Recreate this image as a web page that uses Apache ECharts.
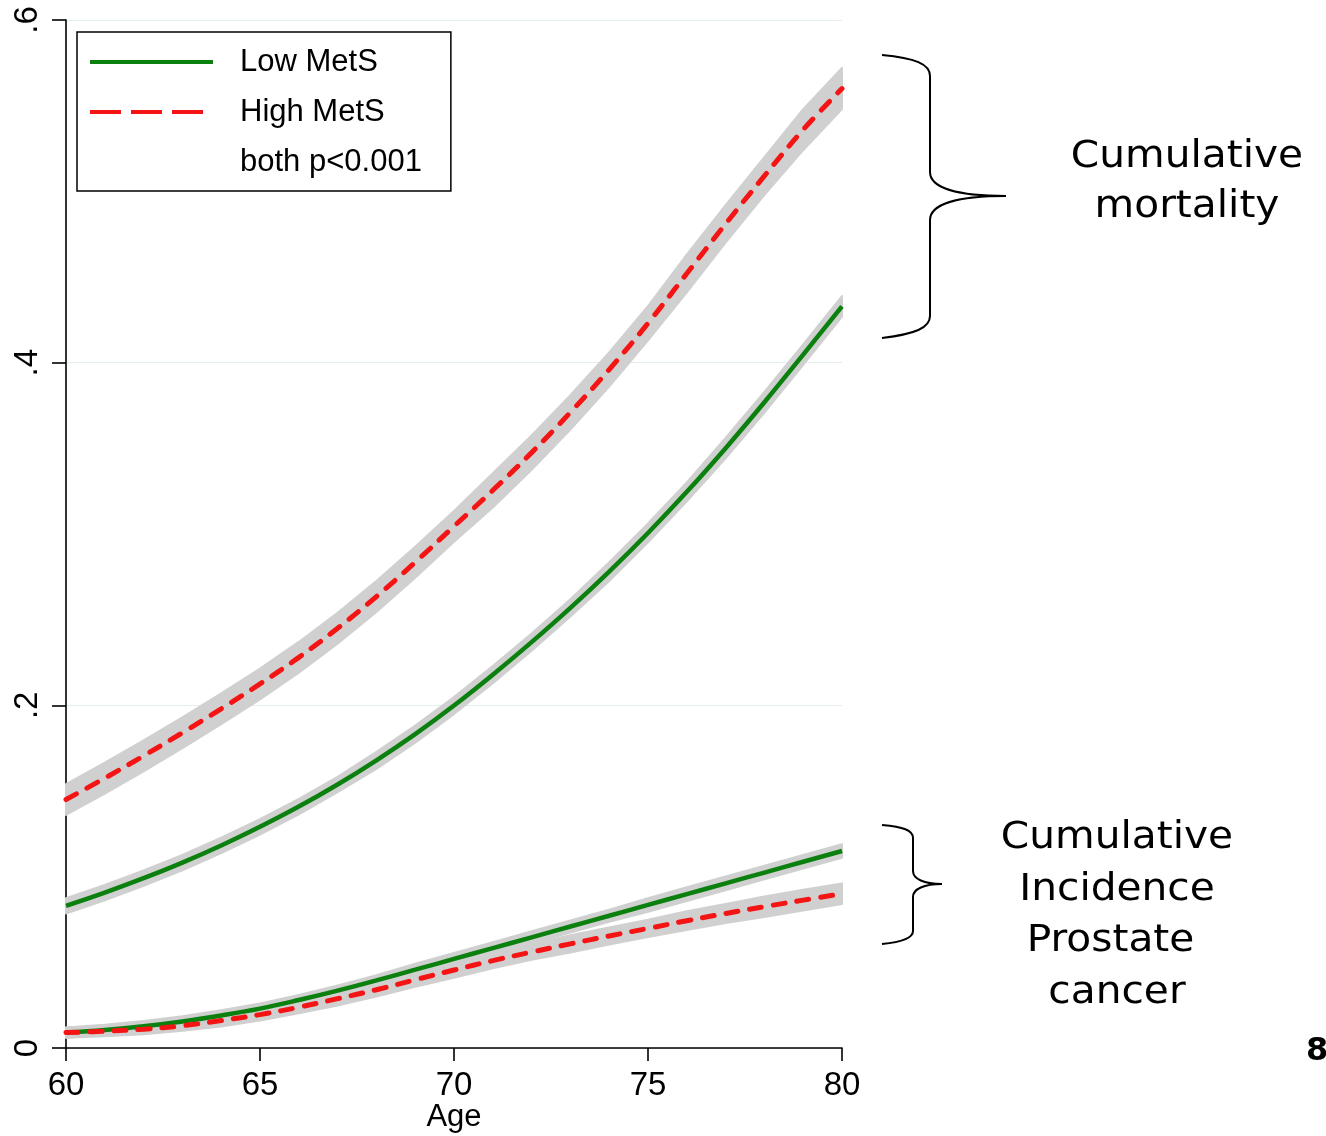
<!DOCTYPE html>
<html><head><meta charset="utf-8">
<script src="https://cdn.jsdelivr.net/npm/echarts@6/dist/echarts.min.js"></script>
<style>html,body{margin:0;padding:0;background:#fff}#c{width:1326px;height:1136px}</style>
</head><body><div id="c"></div>
<script>
// ---- data ----
const ages = [60,61,62,63,64,65,66,67,68,69,70,71,72,73,74,75,76,77,78,79,80];
const lowMetSMortality  = [0.083,0.0907,0.0991,0.1082,0.1182,0.1291,0.1409,0.1538,0.1679,0.1832,0.1999,0.2179,0.2369,0.2569,0.2781,0.3006,0.3246,0.3501,0.3769,0.4047,0.4329];
const highMetSMortality = [0.145,0.1575,0.1705,0.184,0.198,0.2125,0.228,0.245,0.2635,0.2835,0.3045,0.3255,0.3475,0.371,0.396,0.423,0.452,0.481,0.509,0.536,0.560];
const lowMetSIncidence  = [0.009,0.0105,0.0127,0.0155,0.019,0.023,0.028,0.0335,0.0395,0.0457,0.052,0.0583,0.0646,0.0709,0.0772,0.0835,0.0898,0.0961,0.1024,0.1087,0.115];
const highMetSIncidence = [0.009,0.0098,0.011,0.013,0.016,0.0195,0.0238,0.0288,0.034,0.0398,0.0455,0.051,0.056,0.0608,0.0654,0.0698,0.0743,0.0785,0.0825,0.0863,0.090];
// half-widths of the grey confidence bands
const lowMortCI  = [0.0045,0.0045,0.0045,0.0045,0.0045,0.0045,0.0045,0.0045,0.005,0.005,0.005,0.005,0.005,0.005,0.0055,0.0055,0.0055,0.006,0.006,0.006,0.006];
const highMortCI = [0.009,0.009,0.009,0.009,0.009,0.009,0.009,0.009,0.009,0.009,0.009,0.010,0.010,0.010,0.010,0.010,0.011,0.011,0.011,0.012,0.012];
const lowIncCI   = [0.003,0.003,0.003,0.003,0.003,0.003,0.003,0.003,0.003,0.0035,0.0035,0.0035,0.0035,0.0035,0.0035,0.004,0.004,0.004,0.004,0.004,0.004];
const highIncCI  = [0.003,0.003,0.003,0.003,0.0035,0.0035,0.0035,0.004,0.004,0.004,0.0045,0.0045,0.0045,0.005,0.005,0.005,0.0055,0.0055,0.006,0.006,0.006];
const xTicks = [60,65,70,75,80];
const xTickLabels = ['60','65','70','75','80'];
const yTicks = [0,0.2,0.4,0.6];
const yTickLabels = ['0','.2','.4','.6'];
const seriesNames = ['Low MetS','High MetS'];
const noteText = 'both p<0.001';
const xTitle = 'Age';
const mortalityLabel = ['Cumulative','mortality'];
const incidenceLabel = ['Cumulative','Incidence','Prostate ','cancer'];
const pageNumber = '8';

// ---- styles ----
const GREEN = '#0b800f';
const RED = '#f41414';
const BAND = '#d0d0d0';
const AXIS_FONT = 'Liberation Sans, Arial, sans-serif';
const NOTE_FONT = 'DejaVu Sans, Verdana, sans-serif';

function pairs(v){ return ages.map((a,i)=>[a, v[i]]); }
function band(name, mid, half){
  return {
    type:'custom', name:name, silent:true, z:1,
    data:[[ages[0], mid[0]]],
    renderItem(params, api){
      const pts=[];
      for(let i=0;i<ages.length;i++) pts.push(api.coord([ages[i], mid[i]+half[i]]));
      for(let i=ages.length-1;i>=0;i--) pts.push(api.coord([ages[i], mid[i]-half[i]]));
      return {type:'polygon', shape:{points:pts}, style:{fill:BAND, stroke:BAND, lineWidth:2, lineJoin:'round'}};
    }
  };
}
function solid(name, v){
  return {type:'line', name:name, data:pairs(v), symbol:'none', smooth:0.4, z:3, silent:true,
    itemStyle:{color:GREEN}, lineStyle:{color:GREEN, width:4.5}};
}
function dashed(name, v){
  return {type:'line', name:name, data:pairs(v), symbol:'none', smooth:0.4, z:3, silent:true,
    itemStyle:{color:RED}, lineStyle:{color:RED, width:5, type:[12,12], cap:'round'}};
}
const STROKE = {stroke:'#000', lineWidth:2, fill:null};
function bez(x1,y1,c1x,c1y,c2x,c2y,x2,y2){
  return {type:'bezierCurve', z:10, silent:true, shape:{x1:x1,y1:y1,cpx1:c1x,cpy1:c1y,cpx2:c2x,cpy2:c2y,x2:x2,y2:y2}, style:STROKE};
}
function seg(x1,y1,x2,y2){
  return {type:'line', z:10, silent:true, shape:{x1:x1,y1:y1,x2:x2,y2:y2}, style:STROKE};
}
const tl = (x,y,txt,size)=>({type:'text', x:x, y:y, scaleX:1.1, z:10, silent:true,
  style:{text:txt, font:size+'px '+NOTE_FONT, fill:'#000', align:'center', verticalAlign:'middle'}});

const chart = echarts.init(document.getElementById('c'), null, {renderer:'canvas'});
chart.setOption({
  backgroundColor:'#ffffff',
  animation:false,
  grid:{left:66, right:484, top:20, bottom:88, outerBoundsMode:'none', containLabel:false},
  xAxis:{
    type:'value', min:60, max:80, interval:5,
    name:xTitle, nameLocation:'middle', nameGap:52, nameMoveOverlap:false,
    nameTextStyle:{fontSize:31, fontFamily:AXIS_FONT, color:'#000', lineHeight:34},
    axisLine:{show:true, lineStyle:{color:'#000', width:1.6}},
    axisTick:{show:true, length:13, lineStyle:{color:'#000', width:1.6}},
    axisLabel:{fontSize:33, fontFamily:AXIS_FONT, color:'#000', margin:21,
      formatter:v=>{const k=xTicks.indexOf(v); return k>=0?xTickLabels[k]:'';}},
    splitLine:{show:false}
  },
  yAxis:{
    type:'value', min:0, max:0.6, interval:0.2,
    axisLine:{show:true, lineStyle:{color:'#000', width:1.6}},
    axisTick:{show:true, length:14, lineStyle:{color:'#000', width:1.6}},
    axisLabel:{fontSize:33, fontFamily:AXIS_FONT, color:'#000', margin:22, rotate:90,
      formatter:v=>{const k=yTicks.findIndex(t=>Math.abs(t-v)<1e-9); return k>=0?yTickLabels[k]:'';}},
    splitLine:{show:true, lineStyle:{color:'#e3eef0', width:1}}
  },
  legend:{
    left:77, top:32, orient:'vertical', selectedMode:false,
    backgroundColor:'#fff', borderColor:'#000', borderWidth:1.5, borderRadius:0,
    padding:[12,29,11,11], itemGap:14, itemWidth:123, itemHeight:30,
    textStyle:{fontSize:31, fontFamily:AXIS_FONT, color:'#000', lineHeight:36, padding:[0,0,0,22]},
    data:[
      {name:seriesNames[0], itemStyle:{opacity:0}, lineStyle:{color:GREEN, width:4, type:'solid'}},
      {name:seriesNames[1], itemStyle:{opacity:0}, lineStyle:{color:RED, width:4, type:[31,10], cap:'butt'}},
      {name:noteText, itemStyle:{opacity:0}, lineStyle:{opacity:0, width:0}}
    ]
  },
  series:[
    band('band-hm', highMetSMortality, highMortCI),
    band('band-lm', lowMetSMortality, lowMortCI),
    band('band-hi', highMetSIncidence, highIncCI),
    band('band-li', lowMetSIncidence, lowIncCI),
    solid(seriesNames[0], lowMetSMortality),
    dashed(seriesNames[1], highMetSMortality),
    solid(seriesNames[0], lowMetSIncidence),
    dashed(seriesNames[1], highMetSIncidence),
    {type:'line', name:noteText, data:[], symbol:'none', itemStyle:{opacity:0}, lineStyle:{opacity:0, width:0}}
  ],
  graphic:[
    bez(882,55, 915,58, 930,64, 930,76), seg(930,76,930,172),
    bez(930,172, 930,188, 958,196, 1006,196), bez(1006,196, 958,196, 930,204, 930,220),
    seg(930,220,930,316), bez(930,316, 930,328, 915,334, 882,338),
    bez(882,825, 903,827, 913,830, 913,838), seg(913,838,913,871),
    bez(913,871, 913,879, 924,884, 942,884), bez(942,884, 924,884, 913,889, 913,897),
    seg(913,897,913,931), bez(913,931, 913,938, 903,942, 882,944),
    tl(1187,157,mortalityLabel[0],37),
    tl(1187,207,mortalityLabel[1],37),
    tl(1117,838,incidenceLabel[0],37),
    tl(1117,890,incidenceLabel[1],37),
    tl(1117,941,incidenceLabel[2],37),
    tl(1117,993,incidenceLabel[3],37),
    {type:'text', x:1306, y:1052, z:10, silent:true, style:{text:pageNumber, font:'bold 32px '+NOTE_FONT, fill:'#000', align:'left', verticalAlign:'middle'}}
  ]
});
</script></body></html>
